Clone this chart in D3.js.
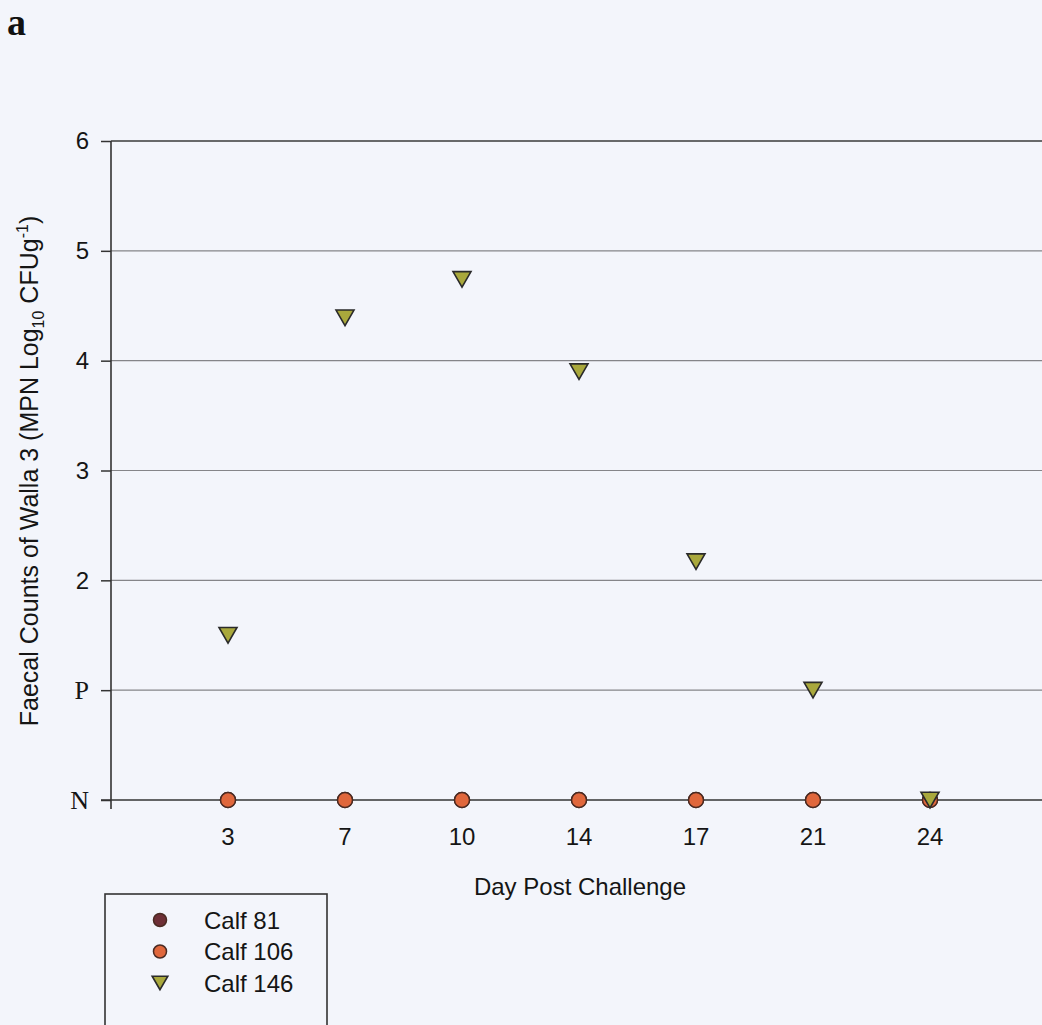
<!DOCTYPE html>
<html>
<head>
<meta charset="utf-8">
<script src="https://cdn.jsdelivr.net/npm/d3@7"></script>
<style>
  body { margin: 0; background: #f3f5fb; }
  svg { display: block; }
</style>
</head>
<body>
<svg id="chart" width="1042" height="1025"></svg>
<script>
var days = ["3", "7", "10", "14", "17", "21", "24"],
    yTicks = [0, 1, 2, 3, 4, 5, 6],
    yTickLabels = ["N", "P", "2", "3", "4", "5", "6"],
    calf81 = [0, 0, 0, 0, 0, 0, 0],
    calf106 = [0, 0, 0, 0, 0, 0, 0],
    calf146 = [1.5, 4.39, 4.74, 3.9, 2.17, 1.0, 0],
    series = [
      { name: "Calf 81", values: calf81, shape: "circle", fill: "#6e2f36" },
      { name: "Calf 106", values: calf106, shape: "circle", fill: "#e0673c" },
      { name: "Calf 146", values: calf146, shape: "tri", fill: "#a9a83c" }
    ];

var svg = d3.select("#chart"),
    plotLeft = 111, plotTop = 141, plotBottom = 800, plotRight = 1047,
    sans = "'Liberation Sans', Arial, sans-serif",
    serif = "'Liberation Serif', 'Times New Roman', serif";

var x = d3.scalePoint().domain(days).range([plotLeft, plotRight]).padding(1),
    y = d3.scaleLinear().domain([0, 6]).range([plotBottom, plotTop]);

// gridlines
svg.append("g").selectAll("line")
  .data(yTicks.slice(1))
  .join("line")
    .attr("x1", plotLeft).attr("x2", 1042)
    .attr("y1", function (d) { return y(d); })
    .attr("y2", function (d) { return y(d); })
    .attr("stroke", function (d) { return d == 6 ? "#3a3a3a" : "#858589"; })
    .attr("stroke-width", function (d) { return d == 6 ? 1.6 : 1.2; });

// y axis
var yAxis = svg.append("g")
    .attr("transform", "translate(" + plotLeft + ",0)")
    .call(d3.axisLeft(y).tickValues(yTicks).tickSize(10).tickPadding(12)
      .tickFormat(function (d, i) { return yTickLabels[i]; }));
yAxis.select(".domain").remove();
yAxis.selectAll(".tick line").attr("stroke", "#333").attr("stroke-width", 1.5);
yAxis.selectAll(".tick text")
    .attr("fill", "#151515")
    .style("font-family", function (d) { return d < 2 ? serif : sans; })
    .style("font-size", function (d) { return d < 2 ? "26px" : "24px"; });

svg.append("line")
    .attr("x1", plotLeft).attr("x2", plotLeft)
    .attr("y1", plotTop).attr("y2", plotBottom + 9)
    .attr("stroke", "#333").attr("stroke-width", 1.6);

// x axis line
svg.append("line")
    .attr("x1", plotLeft - 10).attr("x2", 1042)
    .attr("y1", plotBottom).attr("y2", plotBottom)
    .attr("stroke", "#333").attr("stroke-width", 1.6);

svg.append("g").selectAll("text")
  .data(days)
  .join("text")
    .attr("x", function (d) { return x(d); })
    .attr("y", plotBottom + 45)
    .attr("text-anchor", "middle")
    .style("font-family", sans)
    .style("font-size", "24px")
    .attr("fill", "#151515")
    .text(function (d) { return d; });

svg.append("text")
    .attr("x", 580).attr("y", 895)
    .attr("text-anchor", "middle")
    .style("font-family", sans)
    .style("font-size", "24px")
    .attr("fill", "#151515")
    .text("Day Post Challenge");

// y title
var yt = svg.append("text")
    .attr("transform", "translate(38,471) rotate(-90)")
    .attr("text-anchor", "middle")
    .style("font-family", sans)
    .style("font-size", "25px")
    .attr("fill", "#151515");
yt.append("tspan").text("Faecal Counts of Walla 3 (MPN Log");
yt.append("tspan").attr("dy", 6).style("font-size", "16px").text("10");
yt.append("tspan").attr("dy", -6).text(" CFUg");
yt.append("tspan").attr("dy", -10).style("font-size", "16px").text("-1");
yt.append("tspan").attr("dy", 10).text(")");

// panel letter
svg.append("text")
    .attr("x", 7).attr("y", 35)
    .style("font-family", serif)
    .style("font-weight", "bold")
    .style("font-size", "38px")
    .attr("fill", "#111")
    .text("a");

function drawMark(g, s, cx, cy, k) {
  if (s.shape == "circle") {
    g.append("circle")
        .attr("cx", cx).attr("cy", cy).attr("r", 7.5 * k)
        .attr("fill", s.fill).attr("stroke", "#4a2a22").attr("stroke-width", 1.5);
  } else {
    var size = 140 * k * k,
        h = Math.sqrt(size * 4 / Math.sqrt(3)) * Math.sqrt(3) / 2;
    g.append("path")
        .attr("d", d3.symbol().type(d3.symbolTriangle).size(size))
        .attr("transform", "translate(" + cx + "," + (cy - h / 6) + ") rotate(180)")
        .attr("fill", s.fill).attr("stroke", "#2a2a2a").attr("stroke-width", 1.6);
  }
}

// points
var pts = svg.append("g");
series.forEach(function (s) {
  s.values.forEach(function (v, i) {
    drawMark(pts, s, x(days[i]), y(v), 1);
  });
});

// legend
var lg = svg.append("g");
lg.append("rect")
    .attr("x", 105).attr("y", 894).attr("width", 222).attr("height", 150)
    .attr("fill", "none").attr("stroke", "#333").attr("stroke-width", 1.6);
series.forEach(function (s, i) {
  var ly = 920 + i * 31.5;
  drawMark(lg, s, 160, ly, 0.87);
  lg.append("text")
      .attr("x", 204).attr("y", ly + 8.5)
      .style("font-family", sans)
      .style("font-size", "24px")
      .attr("fill", "#151515")
      .text(s.name);
});
</script>
</body>
</html>
